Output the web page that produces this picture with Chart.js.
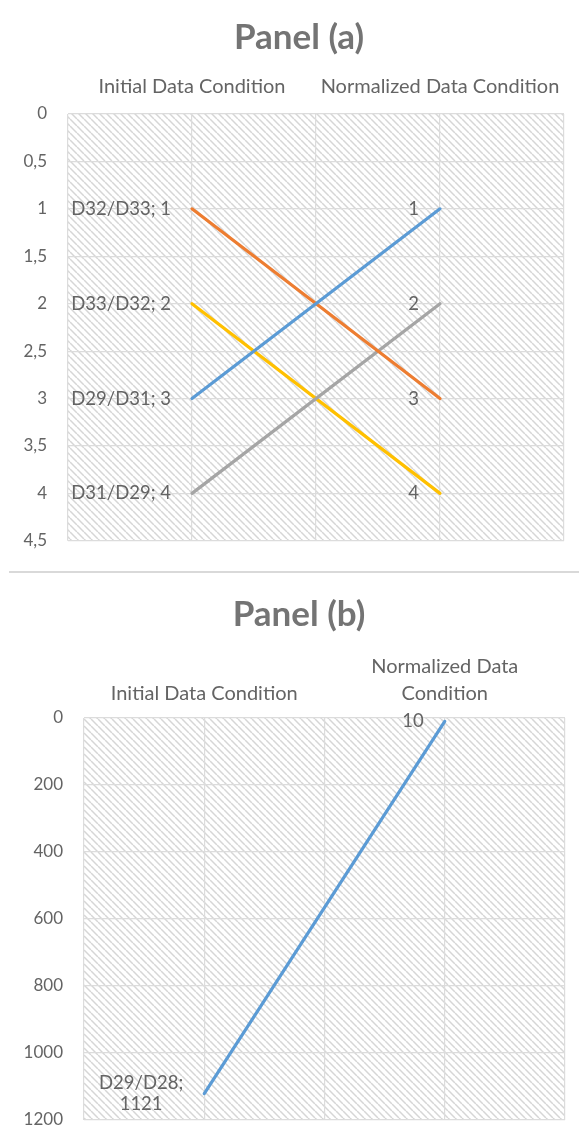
<!DOCTYPE html>
<html>
<head>
<meta charset="utf-8">
<script src="https://cdn.jsdelivr.net/npm/chart.js@4/dist/chart.umd.min.js"></script>
<style>
  html, body { margin: 0; padding: 0; background: #fff; overflow: hidden; width: 579px; height: 1126px; }
  #chartA { position: absolute; left: 0; top: 0; }
  #sep { position: absolute; left: 9px; top: 571px; width: 570px; height: 2px; background: #d9d9d9; }
  #chartB { position: absolute; left: 0; top: 572px; }
</style>
</head>
<body>
<canvas id="chartA" width="579" height="572"></canvas>
<div id="sep"></div>
<canvas id="chartB" width="579" height="600"></canvas>
<script>
// Shared categories (conditions compared in both panels)
const categories = ['Initial Data Condition', 'Normalized Data Condition'];

// Panel (a): rank of each ratio before and after normalisation
const seriesA = ['D29/D31', 'D32/D33', 'D31/D29', 'D33/D32'];
const initialA = [3, 1, 4, 2];
const normalizedA = [1, 3, 2, 4];
const colorsA = ['#5B9BD5', '#ED7D31', '#A5A5A5', '#FFC000'];
const yTicksA = [0, 0.5, 1, 1.5, 2, 2.5, 3, 3.5, 4, 4.5];

// Panel (b)
const seriesB = ['D29/D28'];
const initialB = [1121];
const normalizedB = [10];
const colorsB = ['#5B9BD5'];
const yTicksB = [0, 200, 400, 600, 800, 1000, 1200];

const FONT = 'Lato, "Open Sans", sans-serif';
const TEXT = '#646464';
const GRID = '#dcdcdc';

// Category slots: gridlines on every slot, conditions on slots 1 and 3
function slots(labels) { return ['', labels[0], '', labels[1], '']; }
function slotData(a, b) { return [null, a, null, b, null]; }
function wrap(text, maxChars) {
  const words = text.split(' ');
  const lines = [];
  let cur = '';
  for (const w of words) {
    const next = cur ? cur + ' ' + w : w;
    if (next.length > maxChars && cur) { lines.push(cur); cur = w; } else { cur = next; }
  }
  lines.push(cur);
  return lines.length > 1 ? lines : lines[0];
}

function hatchPattern(ctx) {
  const p = 7;
  const c = document.createElement('canvas');
  c.width = p; c.height = p;
  const g = c.getContext('2d');
  g.strokeStyle = '#d6d6d6';
  g.lineWidth = 1.5;
  for (const k of [-p, 0, p]) {
    g.beginPath(); g.moveTo(k, 0); g.lineTo(k + p, p); g.stroke();
  }
  return ctx.createPattern(c, 'repeat');
}

// Diagonal hatch fill behind the plot area
const hatchFill = {
  id: 'hatchFill',
  beforeDraw(chart) {
    const { ctx, chartArea: a } = chart;
    ctx.save();
    ctx.fillStyle = hatchPattern(ctx);
    ctx.fillRect(a.left, a.top, a.right - a.left, a.bottom - a.top);
    ctx.restore();
  }
};

// Panel heading, centred on the page
const panelTitle = {
  id: 'panelTitle',
  afterDraw(chart, args, opts) {
    const ctx = chart.ctx;
    ctx.save();
    ctx.font = 'bold ' + opts.size + 'px ' + FONT;
    ctx.fillStyle = '#747474';
    ctx.textAlign = 'center';
    ctx.textBaseline = 'middle';
    ctx.fillText(opts.text, opts.x, opts.y);
    ctx.restore();
  }
};

// Value labels to the left of each line end
const endLabels = {
  id: 'endLabels',
  afterDatasetsDraw(chart, args, opts) {
    const ctx = chart.ctx;
    ctx.save();
    ctx.font = opts.size + 'px ' + FONT;
    ctx.fillStyle = TEXT;
    ctx.textBaseline = 'middle';
    ctx.textAlign = 'center';
    chart.data.datasets.forEach((ds, di) => {
      const meta = chart.getDatasetMeta(di);
      meta.data.forEach((pt, i) => {
        const v = ds.data[i];
        if (v == null) return;
        let lines;
        if (i === 1) {
          lines = opts.splitName ? [ds.label + ';', String(v)] : [ds.label + '; ' + v];
        } else {
          lines = [String(v)];
        }
        const w = Math.max(...lines.map(l => ctx.measureText(l).width));
        const cx = pt.x - opts.gap - w / 2;
        const y0 = pt.y - (lines.length - 1) * opts.lineHeight / 2;
        lines.forEach((l, k) => ctx.fillText(l, cx, y0 + k * opts.lineHeight));
      });
    });
    ctx.restore();
  }
};

function makeChart(id, cfg) {
  const datasets = cfg.names.map((n, i) => ({
    label: n,
    data: slotData(cfg.initial[i], cfg.normalized[i]),
    borderColor: cfg.colors[i],
    backgroundColor: cfg.colors[i],
    borderWidth: 3.2,
    borderCapStyle: 'round',
    pointRadius: 0,
    spanGaps: true,
    tension: 0
  }));
  return new Chart(document.getElementById(id), {
    type: 'line',
    data: { labels: cfg.xLabels, datasets },
    options: {
      responsive: false,
      animation: false,
      events: [],
      layout: { padding: cfg.padding },
      plugins: {
        legend: { display: false },
        tooltip: { enabled: false },
        title: { display: false },
        panelTitle: { text: cfg.title, size: 35, x: 299, y: cfg.titleY },
        endLabels: { size: 18.5, gap: 21, lineHeight: 21, splitName: cfg.splitName }
      },
      scales: {
        x: {
          type: 'category',
          position: 'top',
          offset: false,
          grid: { color: GRID, lineWidth: 1.2, drawTicks: false },
          border: { display: false },
          ticks: {
            autoSkip: false, maxRotation: 0, minRotation: 0,
            color: TEXT,
            font: { family: FONT, size: 20, lineHeight: cfg.xLineHeight },
            padding: cfg.xPad
          },
          afterFit(s) { s.height = cfg.xHeight; }
        },
        y: {
          reverse: true,
          min: cfg.yTicks[0],
          max: cfg.yTicks[cfg.yTicks.length - 1],
          afterBuildTicks(s) { s.ticks = cfg.yTicks.map(v => ({ value: v })); },
          grid: { color: GRID, lineWidth: 1.2, drawTicks: false },
          border: { display: false },
          ticks: {
            color: TEXT,
            font: { family: FONT, size: 17 },
            padding: 21,
            callback: v => String(v).replace('.', ',')
          },
          afterFit(s) { s.width = cfg.yWidth; }
        }
      }
    },
    plugins: [hatchFill, endLabels, panelTitle]
  });
}

makeChart('chartA', {
  title: 'Panel (a)',
  names: seriesA, initial: initialA, normalized: normalizedA, colors: colorsA,
  xLabels: slots(categories),
  yTicks: yTicksA,
  padding: { left: 0, right: 14, top: 64, bottom: 26 },
  titleY: 38,
  xHeight: 50, xPad: 15, xLineHeight: 1.2,
  yWidth: 68,
  splitName: false
});

makeChart('chartB', {
  title: 'Panel (b)',
  names: seriesB, initial: initialB, normalized: normalizedB, colors: colorsB,
  xLabels: slots(categories.map(c => wrap(c, 22))),
  yTicks: yTicksB,
  padding: { left: 0, right: 14, top: 66, bottom: 52 },
  titleY: 43,
  xHeight: 80, xPad: 11, xLineHeight: 1.35,
  yWidth: 84,
  splitName: true
});
</script>
</body>
</html>
